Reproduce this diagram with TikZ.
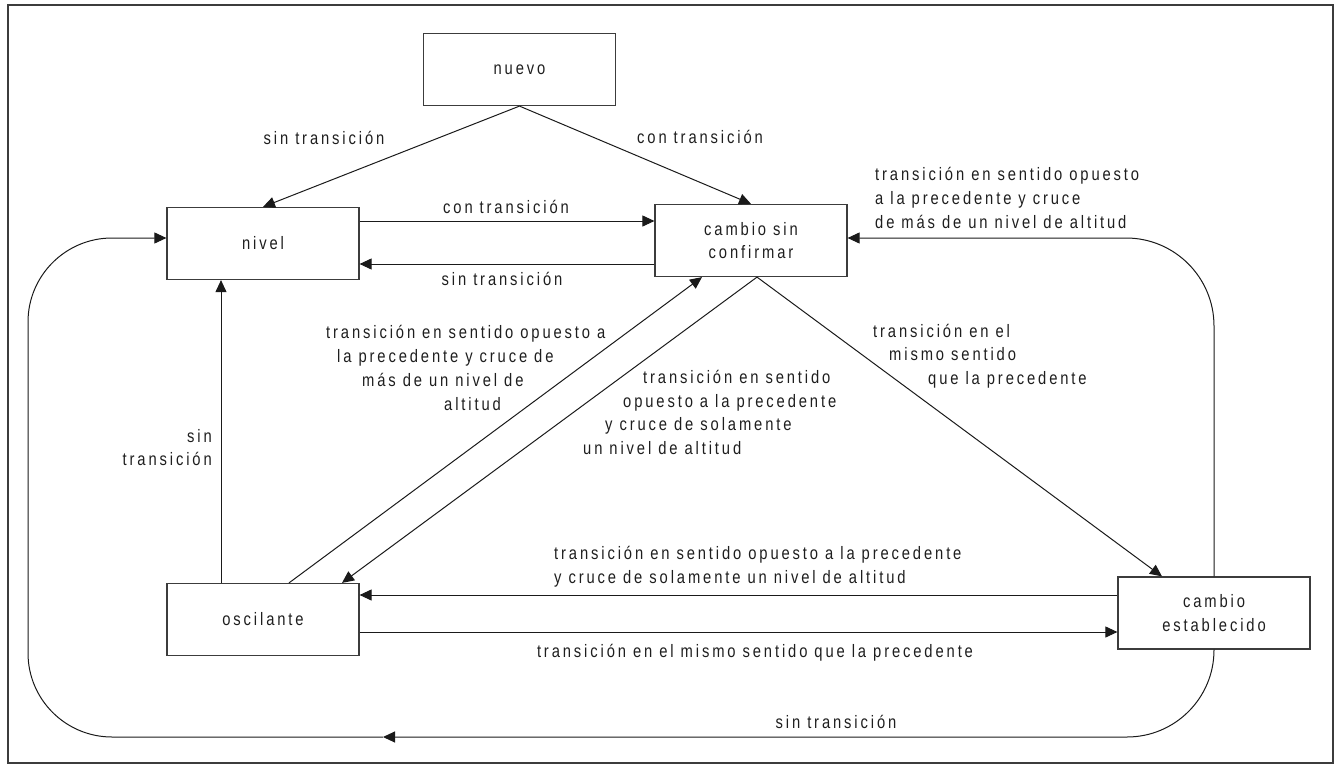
\documentclass[tikz,border=0pt]{standalone}
\usepackage{fontspec}
\setmainfont[FakeStretch=0.82, LetterSpace=16]{Liberation Sans}
\usetikzlibrary{arrows.meta, positioning}
\usepackage{xcolor}
\definecolor{InkText}{HTML}{1E1E1E}
\definecolor{InkLine}{HTML}{1A1A1A}
\definecolor{InkBox}{HTML}{3C3C3C}
\newcommand\lblfont{\fontsize{18}{23.7}\selectfont}
\tikzset{
  statebox/.style={draw=InkBox, line width=1.2pt, align=center,
    minimum width=192pt, minimum height=72pt, inner sep=0pt,
    font=\lblfont, text=InkText},
  lbl/.style={inner sep=0pt, font=\lblfont, text=InkText},
  flow/.style={-{Triangle[length=12pt, width=11pt]}, line width=1pt, draw=InkLine},
}

\begin{document}
\begin{tikzpicture}[x=1pt, y=-1pt]
  \useasboundingbox (0,0) rectangle (1336,768);
  \draw[line width=1.3pt, draw=InkBox] (8,5) rectangle (1333,763);

  % states
  \node[statebox] (nuevo) at (519.5,69.5) {nuevo};
  \node[statebox] (nivel) at (263,243.5) {nivel};
  \node[statebox] (cambio) at (751,240.5) {cambio sin\\confirmar};
  \node[statebox] (osc) at (263,619.5) {oscilante};
  \node[statebox] (estab) at (1214,613) {cambio\\establecido};

  % transitions
  \draw[flow] (nuevo.south) -- (nivel.north);
  \draw[flow] (nuevo.south) -- (cambio.north);
  \draw[flow] ([yshift=22.5pt]nivel.east) -- ([yshift=22.5pt]nivel.east -| cambio.west);
  \draw[flow] ([yshift=-23.5pt]cambio.west) -- ([yshift=-23.5pt]cambio.west -| nivel.east);
  \draw[flow] ([xshift=-42pt]osc.north) -- ([xshift=-42pt]osc.north |- nivel.south);
  \draw[flow] ([xshift=26pt]osc.north) -- ([xshift=-49pt]cambio.south);
  \draw[flow] ([xshift=6pt]cambio.south) -- ([xshift=79pt]osc.north);
  \draw[flow] ([xshift=6pt]cambio.south) -- ([xshift=-52pt]estab.north);
  \draw[flow] ([yshift=18pt]estab.west) -- ([yshift=18pt]estab.west -| osc.east);
  \draw[flow] ([yshift=-12.5pt]osc.east) -- ([yshift=-12.5pt]osc.east -| estab.west);

  % outer loops
  \coordinate (bmid) at (383,737);
  \coordinate (lcorner) at (28,238);
  \draw[flow, rounded corners=87pt] (estab.south) |- (bmid);
  \draw[flow, rounded corners=84pt] (bmid) -| (lcorner) -- ([yshift=5.5pt]nivel.west);
  \draw[flow, rounded corners=88pt] (estab.north) |- ([yshift=2.5pt]cambio.east);

  % labels
  \node[lbl] at (324,138) {sin transición};
  \node[lbl] at (700,137) {con transición};
  \node[lbl] at (506,207) {con transición};
  \node[lbl] at (502,279) {sin transición};
  \node[lbl, align=right, anchor=east] at (212,447.5) {sin\\transición};
  \node[lbl, align=left, anchor=west] at (326,368)
    {transición en sentido opuesto a\\\hspace*{11pt}la precedente y cruce de\\\hspace*{36pt}más de un nivel de\\\hspace*{118pt}altitud};
  \node[lbl, align=left, anchor=west] at (583,412.5)
    {\hspace*{60pt}transición en sentido\\\hspace*{40pt}opuesto a la precedente\\\hspace*{22pt}y cruce de solamente\\un nivel de altitud};
  \node[lbl, align=left, anchor=west] at (873,356)
    {transición en el\\\hspace*{16pt}mismo sentido\\\hspace*{55pt}que la precedente};
  \node[lbl, align=left, anchor=west] at (875,198)
    {transición en sentido opuesto\\a la precedente y cruce\\de más de un nivel de altitud};
  \node[lbl, align=left, anchor=west] at (554,567)
    {transición en sentido opuesto a la precedente\\y cruce de solamente un nivel de altitud};
  \node[lbl] at (755,653) {transición en el mismo sentido que la precedente};
  \node[lbl] at (836,722) {sin transición};
\end{tikzpicture}
\end{document}
